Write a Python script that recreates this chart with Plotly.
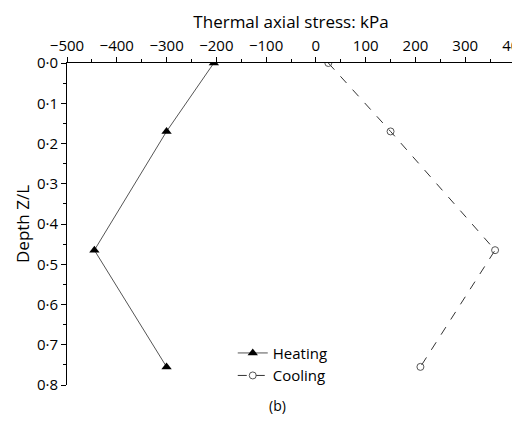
import plotly.graph_objects as go

depth = [0.0, 0.17, 0.465, 0.755]
heating = [-205, -300, -445, -300]
cooling = [25, 150, 360, 210]
ytick_vals = [0.0, 0.1, 0.2, 0.3, 0.4, 0.5, 0.6, 0.7, 0.8]
ytick_text = ["0·0", "0·1", "0·2", "0·3", "0·4", "0·5", "0·6", "0·7", "0·8"]
xtick_vals = [-500, -400, -300, -200, -100, 0, 100, 200, 300, 400]
xtick_text = ["−500", "−400", "−300", "−200", "−100", "0", "100", "200", "300", "400"]

fig = go.Figure()
fig.add_trace(go.Scatter(x=heating, y=depth, name="Heating", mode="lines+markers",
                         line=dict(color="#555", width=1),
                         marker=dict(symbol="triangle-up", size=9, color="black")))
fig.add_trace(go.Scatter(x=cooling, y=depth, name="Cooling", mode="lines+markers",
                         line=dict(color="#333", width=1, dash="dash"),
                         marker=dict(symbol="circle-open", size=7, color="#555")))
fig.update_layout(
    width=520, height=422, plot_bgcolor="white", paper_bgcolor="white",
    margin=dict(l=59, r=13, t=55, b=45),
    font=dict(family="Open Sans", size=14, color="black"),
    showlegend=True,
    legend=dict(x=0.37, y=0.15, xanchor="left", yanchor="top", bgcolor="rgba(0,0,0,0)",
                font=dict(size=15), tracegroupgap=0, itemwidth=30),
    xaxis=dict(side="top", range=[-500, 400], tickvals=xtick_vals, ticktext=xtick_text,
               showgrid=False, zeroline=False, showline=True, linecolor="black",
               ticks="outside", ticklen=5, tickcolor="black", automargin=False,
               minor=dict(dtick=50, ticks="outside", ticklen=3, tickcolor="black"),
               title=dict(text="Thermal axial stress: kPa", standoff=2),
               tickfont=dict(size=15)),
    yaxis=dict(range=[0.8, 0], tickvals=ytick_vals, ticktext=ytick_text,
               showgrid=False, zeroline=False, showline=True, linecolor="black",
               ticks="outside", ticklen=5, tickcolor="black", automargin=False,
               minor=dict(dtick=0.05, ticks="outside", ticklen=3, tickcolor="black"),
               title=dict(text="Depth Z/L", standoff=2), tickfont=dict(size=15)),
    annotations=[dict(text="(b)", x=0.47, y=-0.1, xref="paper", yref="paper",
                      showarrow=False, font=dict(size=14))],
)
fig.write_html("out.html")
